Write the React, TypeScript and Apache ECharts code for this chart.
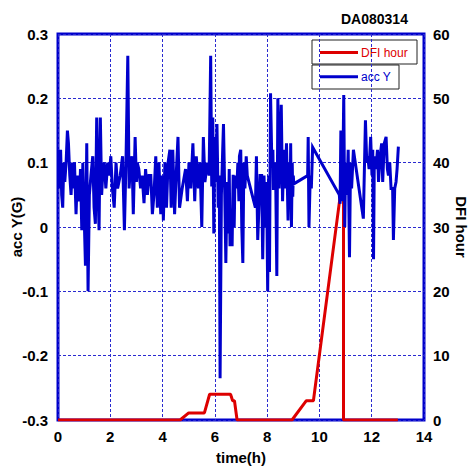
import React, { useEffect, useRef } from "react";
import * as echarts from "echarts";

const titleText = "DA080314";
const xTicks = { min: 0, max: 14, interval: 2 };
const leftTicks = { min: -0.3, max: 0.3, interval: 0.1 };
const rightTicks = { min: 0, max: 60, interval: 10 };

// DFI hour (right axis): [time h, hours]
const dfiHour: [number, number][] = [
  [0, 0], [4.67, 0], [5.0, 1.1], [5.6, 1.1], [5.8, 4], [6.6, 4], [6.68, 3], [6.75, 3], [6.85, 0],
  [8.95, 0], [9.5, 3], [9.77, 3], [10.8, 35], [10.92, 35], [10.92, 0], [13.0, 0],
];

// acc Y (left axis): [time h, G]
const accY: [number, number][] = [
  [0.03, 0.12], [0.06, 0.06], [0.1, 0.12], [0.14, 0.05], [0.18, 0.03], [0.22, 0.1], [0.26, 0.07],
  [0.31, 0.1], [0.36, 0.15], [0.4, 0.13], [0.45, 0.08], [0.5, 0.05], [0.55, 0.1], [0.6, 0.06],
  [0.63, 0.1], [0.69, 0.02], [0.74, 0.08], [0.78, 0.05], [0.82, 0.04], [0.86, 0.09], [0.91, -0.005],
  [0.95, 0.1], [1.0, 0.02], [1.05, -0.06], [1.1, 0.13], [1.15, -0.1], [1.2, 0.05], [1.26, 0.08],
  [1.33, 0.11], [1.38, 0.03], [1.43, 0.005], [1.48, 0.17], [1.53, 0.06], [1.57, -0.005], [1.62, 0.17],
  [1.67, 0.05], [1.72, 0.09], [1.77, 0.1], [1.83, 0.06], [1.9, 0.1], [1.96, 0.08], [2.02, 0.11],
  [2.08, 0.06], [2.15, 0.03], [2.22, 0.1], [2.28, 0.06], [2.38, 0.08], [2.47, 0.11], [2.54, -0.005],
  [2.6, 0.1], [2.67, 0.266], [2.72, 0.06], [2.78, 0.1], [2.83, 0.11], [2.88, 0.02], [2.95, 0.14],
  [3.0, 0.07], [3.03, 0.1], [3.09, 0.09], [3.16, 0.06], [3.22, 0.08], [3.29, 0.037], [3.35, 0.09],
  [3.42, 0.05], [3.48, 0.08], [3.55, 0.08], [3.61, 0.02], [3.67, 0.05], [3.74, 0.11], [3.8, 0.03],
  [3.86, 0.1], [3.93, 0.02], [3.99, 0.08], [4.03, 0.01], [4.09, 0.1], [4.15, 0.03], [4.21, 0.1],
  [4.28, 0.12], [4.33, 0.03], [4.39, 0.12], [4.46, 0.02], [4.52, 0.08], [4.59, 0.14], [4.65, 0.03],
  [4.75, 0.06], [4.88, 0.09], [4.95, 0.04], [5.01, 0.1], [5.08, 0.06], [5.16, 0.13], [5.23, 0.04],
  [5.29, 0.11], [5.37, 0.06], [5.43, 0.1], [5.5, 0.0], [5.56, 0.14], [5.62, 0.07], [5.71, 0.1],
  [5.78, 0.08], [5.84, 0.266], [5.88, 0.063], [5.92, 0.17], [5.96, -0.01], [6.0, 0.14], [6.04, 0.07],
  [6.08, 0.16], [6.13, 0.03], [6.17, 0.08], [6.2, -0.235], [6.25, 0.05], [6.3, 0.12], [6.33, 0.16],
  [6.38, 0.05], [6.42, -0.056], [6.47, 0.07], [6.51, -0.01], [6.55, 0.09], [6.58, -0.03], [6.62, 0.01],
  [6.66, -0.03], [6.7, 0.081], [6.74, 0.0], [6.77, 0.08], [6.84, 0.06], [6.88, 0.1], [6.92, 0.04],
  [6.94, 0.11], [6.99, 0.12], [7.03, 0.0], [7.07, -0.056], [7.11, 0.1], [7.15, 0.06], [7.2, 0.11],
  [7.24, 0.08], [7.55, 0.03], [7.59, 0.11], [7.64, -0.02], [7.73, 0.08], [7.79, 0.08], [7.83, -0.05],
  [7.88, 0.08], [7.94, 0.0], [7.98, 0.07], [8.02, -0.1], [8.06, 0.08], [8.09, -0.07], [8.13, 0.208],
  [8.18, 0.1], [8.22, 0.12], [8.24, 0.06], [8.28, 0.06], [8.32, 0.1], [8.37, -0.076], [8.41, 0.2],
  [8.46, 0.06], [8.49, 0.1], [8.54, 0.19], [8.59, 0.04], [8.64, 0.12], [8.69, 0.06], [8.74, 0.13],
  [8.8, 0.01], [8.84, 0.1], [8.88, 0.04], [8.9, 0.13], [8.93, 0.0], [8.96, 0.1], [8.98, 0.047],
  [9.0, 0.08], [9.02, 0.067], [9.55, 0.08], [9.57, 0.14], [9.6, 0.0], [9.65, 0.08], [9.69, 0.06],
  [9.74, 0.124], [10.76, 0.05], [10.79, 0.036], [10.82, 0.15], [10.86, 0.04], [10.9, 0.1],
  [10.93, 0.205], [10.97, 0.0], [11.0, 0.1], [11.05, 0.05], [11.1, 0.12], [11.15, -0.047],
  [11.19, 0.1], [11.23, 0.06], [11.3, 0.12], [11.68, 0.013], [11.76, 0.166], [11.81, 0.1],
  [11.85, 0.11], [11.9, 0.09], [11.96, 0.14], [12.01, 0.08], [12.04, 0.12], [12.07, -0.05],
  [12.1, 0.11], [12.16, 0.09], [12.22, 0.12], [12.26, 0.07], [12.32, 0.11], [12.38, 0.13],
  [12.42, 0.07], [12.48, 0.13], [12.55, 0.14], [12.6, 0.09], [12.64, 0.08], [12.69, 0.1],
  [12.74, 0.06], [12.8, 0.06], [12.83, -0.02], [12.88, 0.06], [12.93, 0.07], [12.97, 0.09],
  [13.02, 0.125],
];

const FONT = '"Liberation Sans", Arial, sans-serif';
const BLUE = "#0000cc";
const RED = "#dd0000";
const GRIDLINE = { show: true, lineStyle: { color: "#2a2ad0", width: 1, type: [3, 2] as any } };
const LABEL = { color: "#000", fontFamily: FONT, fontWeight: "bold" as const, fontSize: 15 };
const NAME = { color: "#000", fontFamily: FONT, fontWeight: "bold" as const, fontSize: 15 };

export default function App() {
  const ref = useRef<HTMLDivElement>(null);
  useEffect(() => {
    if (!ref.current) return;
    const chart = echarts.init(ref.current, null, { renderer: "svg" });
    chart.setOption({
      animation: false,
      backgroundColor: "#fff",
      title: {
        text: titleText,
        left: 341,
        top: 12,
        padding: 0,
        textStyle: { fontFamily: FONT, fontWeight: "bold", fontSize: 14, color: "#000" },
      },
      grid: {
        left: 58, right: 46, top: 34, bottom: 46,
        containLabel: false,
        outerBoundsMode: "none",
        show: true, borderColor: BLUE, borderWidth: 3, backgroundColor: "transparent",
      },
      xAxis: {
        type: "value",
        ...xTicks,
        name: "time(h)",
        nameLocation: "middle",
        nameGap: 30,
        nameMoveOverlap: false,
        nameTextStyle: NAME,
        axisLine: { show: false },
        axisTick: { show: false },
        axisLabel: { ...LABEL, margin: 9 },
        splitLine: GRIDLINE,
      },
      yAxis: [
        {
          type: "value",
          ...leftTicks,
          name: "acc Y(G)",
          nameLocation: "middle",
          nameGap: 34,
          nameMoveOverlap: false,
          nameTextStyle: NAME,
          axisLine: { show: false },
          axisTick: { show: false },
          axisLabel: {
            ...LABEL,
            margin: 10,
            formatter: (v: number) => {
              const r = Math.round(v * 10) / 10;
              return r === 0 ? "0" : String(r);
            },
          },
          splitLine: GRIDLINE,
        },
        {
          type: "value",
          position: "right",
          ...rightTicks,
          name: "DFI hour",
          nameLocation: "middle",
          nameGap: 30,
          nameRotate: -90,
          nameMoveOverlap: false,
          nameTextStyle: NAME,
          axisLine: { show: false },
          axisTick: { show: false },
          axisLabel: { ...LABEL, margin: 9 },
          splitLine: { show: false },
        },
      ],
      series: [
        {
          name: "DFI hour",
          type: "line",
          yAxisIndex: 1,
          data: dfiHour,
          showSymbol: false,
          lineStyle: { color: RED, width: 3 },
          itemStyle: { color: RED },
          z: 2,
        },
        {
          name: "acc Y",
          type: "line",
          yAxisIndex: 0,
          data: accY,
          showSymbol: false,
          lineStyle: { color: BLUE, width: 3, join: "miter" },
          itemStyle: { color: BLUE },
          z: 3,
        },
      ],
      graphic: [
        {
          type: "group",
          z: 100,
          children: [
            { type: "rect", shape: { x: 312, y: 40, width: 105, height: 24 }, style: { fill: "#fff", stroke: "#222", lineWidth: 1 } },
            { type: "line", shape: { x1: 320, y1: 52.5, x2: 358, y2: 52.5 }, style: { stroke: RED, lineWidth: 3 } },
            { type: "text", x: 361, y: 52.5, style: { text: "DFI hour", fill: RED, font: `12px ${FONT}`, verticalAlign: "middle", align: "left" } },
            { type: "rect", shape: { x: 312, y: 65, width: 87, height: 24 }, style: { fill: "#fff", stroke: "#222", lineWidth: 1 } },
            { type: "line", shape: { x1: 320, y1: 76.7, x2: 358, y2: 76.7 }, style: { stroke: BLUE, lineWidth: 3 } },
            { type: "text", x: 361, y: 76.7, style: { text: "acc Y", fill: BLUE, font: `12px ${FONT}`, verticalAlign: "middle", align: "left" } },
          ],
        },
      ],
    });
    return () => chart.dispose();
  }, []);
  return <div ref={ref} style={{ width: 470, height: 466, position: "absolute", left: 0, top: 0 }} />;
}
